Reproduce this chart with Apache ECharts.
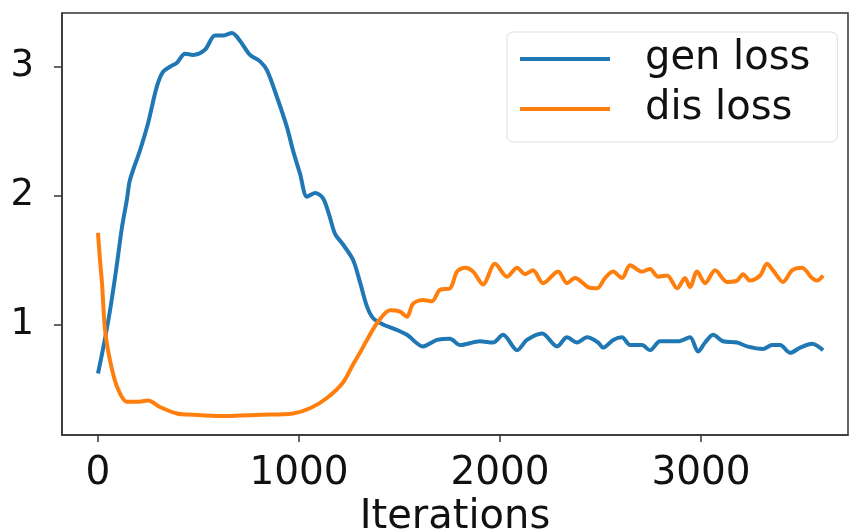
<!DOCTYPE html>
<html>
<head>
<meta charset="utf-8">
<script src="https://cdn.jsdelivr.net/npm/echarts@6/dist/echarts.min.js"></script>
<style>
  html, body { margin: 0; padding: 0; background: #fff; }
  #chart { width: 850px; height: 532px; }
</style>
</head>
<body>
<div id="chart"></div>
<script>
  // values
  var genX = [0, 30, 60, 90, 119, 144, 159, 209, 249, 292, 324, 360, 393, 433, 473, 532, 582, 622, 667, 706, 756, 806, 841, 891, 940, 970, 1005, 1040, 1080, 1119, 1150, 1180, 1219, 1269, 1303, 1338, 1368, 1418, 1468, 1537, 1617, 1686, 1751, 1801, 1900, 1965, 2015, 2085, 2134, 2209, 2284, 2333, 2383, 2433, 2488, 2513, 2563, 2607, 2647, 2706, 2746, 2796, 2846, 2886, 2945, 2985, 3020, 3060, 3109, 3179, 3229, 3308, 3353, 3393, 3443, 3493, 3552, 3607];
  var genY = [0.62, 0.85, 1.11, 1.42, 1.75, 1.97, 2.12, 2.35, 2.56, 2.84, 2.96, 3.00, 3.03, 3.10, 3.09, 3.13, 3.24, 3.24, 3.26, 3.20, 3.09, 3.04, 2.97, 2.76, 2.53, 2.35, 2.17, 1.99, 2.02, 1.98, 1.85, 1.70, 1.62, 1.50, 1.33, 1.14, 1.05, 1.00, 0.97, 0.92, 0.83, 0.88, 0.89, 0.84, 0.87, 0.86, 0.92, 0.80, 0.88, 0.93, 0.83, 0.90, 0.86, 0.90, 0.86, 0.82, 0.88, 0.90, 0.84, 0.84, 0.80, 0.87, 0.87, 0.87, 0.90, 0.79, 0.86, 0.92, 0.87, 0.86, 0.83, 0.81, 0.84, 0.84, 0.78, 0.82, 0.85, 0.80];

  var disX = [0, 10, 20, 35, 60, 94, 144, 194, 249, 308, 393, 473, 607, 806, 970, 1055, 1139, 1219, 1269, 1303, 1338, 1388, 1453, 1502, 1537, 1567, 1617, 1662, 1701, 1751, 1786, 1826, 1866, 1915, 1975, 2035, 2085, 2124, 2164, 2214, 2289, 2333, 2373, 2438, 2483, 2522, 2562, 2607, 2647, 2706, 2746, 2786, 2831, 2881, 2920, 2945, 2980, 3020, 3070, 3129, 3179, 3209, 3244, 3294, 3328, 3358, 3408, 3453, 3502, 3552, 3577, 3607];
  var disY = [1.71, 1.50, 1.32, 0.96, 0.72, 0.52, 0.40, 0.40, 0.41, 0.36, 0.31, 0.30, 0.29, 0.30, 0.31, 0.35, 0.43, 0.55, 0.69, 0.78, 0.88, 1.01, 1.11, 1.10, 1.06, 1.16, 1.19, 1.18, 1.27, 1.28, 1.41, 1.44, 1.41, 1.31, 1.47, 1.37, 1.44, 1.39, 1.42, 1.32, 1.41, 1.32, 1.36, 1.29, 1.28, 1.36, 1.41, 1.36, 1.46, 1.41, 1.43, 1.37, 1.38, 1.28, 1.36, 1.29, 1.41, 1.32, 1.42, 1.33, 1.34, 1.39, 1.34, 1.38, 1.47, 1.42, 1.33, 1.42, 1.44, 1.36, 1.34, 1.38];

  var xTicks = [0, 1000, 2000, 3000];
  var yTicks = [1, 2, 3];
  var seriesNames = ['gen loss', 'dis loss'];

  function pairs(xs, ys) {
    var out = [];
    for (var i = 0; i < xs.length; i++) out.push([xs[i], ys[i]]);
    return out;
  }

  var font = 'DejaVu Sans';
  var chart = echarts.init(document.getElementById('chart'));
  chart.setOption({
    backgroundColor: '#fff',
    animation: false,
    color: ['#1f77b4', '#ff7f0e'],
    grid: {
      left: 62, right: 2, top: 13, bottom: 97,
      outerBoundsMode: 'none',
      show: true, borderColor: '#333', borderWidth: 1.5
    },
    legend: {
      orient: 'vertical',
      left: 507, top: 32,
      padding: [7, 27, 13, 13],
      itemGap: 10,
      itemWidth: 90, itemHeight: 4,
      icon: 'rect',
      backgroundColor: '#fff',
      borderColor: '#ddd', borderWidth: 1, borderRadius: 6,
      textStyle: { fontFamily: font, fontSize: 40, color: '#111', lineHeight: 40, padding: [0, 0, 0, 30] },
      data: seriesNames
    },
    xAxis: {
      type: 'value',
      min: -179, max: 3731,
      name: 'Iterations',
      nameLocation: 'middle',
      nameGap: 62,
      nameTextStyle: { fontFamily: font, fontSize: 40, color: '#111' },
      splitLine: { show: false },
      axisLine: { show: true, onZero: false, lineStyle: { color: '#333', width: 1.5 } },
      axisTick: { show: true, length: 7, customValues: xTicks, lineStyle: { color: '#333', width: 1.5 } },
      axisLabel: {
        customValues: xTicks, fontFamily: font, fontSize: 39, color: '#111', margin: 19,
        formatter: function (v) { return String(v); }
      }
    },
    yAxis: {
      type: 'value',
      min: 0.143, max: 3.415,
      splitLine: { show: false },
      axisLine: { show: true, onZero: false, lineStyle: { color: '#333', width: 1.5 } },
      axisTick: { show: true, length: 8, customValues: yTicks, lineStyle: { color: '#333', width: 1.5 } },
      axisLabel: { customValues: yTicks, fontFamily: font, fontSize: 37, color: '#111', margin: 28 }
    },
    series: [
      {
        name: seriesNames[0], type: 'line', showSymbol: false, smooth: 0.3,
        lineStyle: { width: 4 }, data: pairs(genX, genY)
      },
      {
        name: seriesNames[1], type: 'line', showSymbol: false, smooth: 0.3,
        lineStyle: { width: 4 }, data: pairs(disX, disY)
      }
    ]
  });
</script>
</body>
</html>
